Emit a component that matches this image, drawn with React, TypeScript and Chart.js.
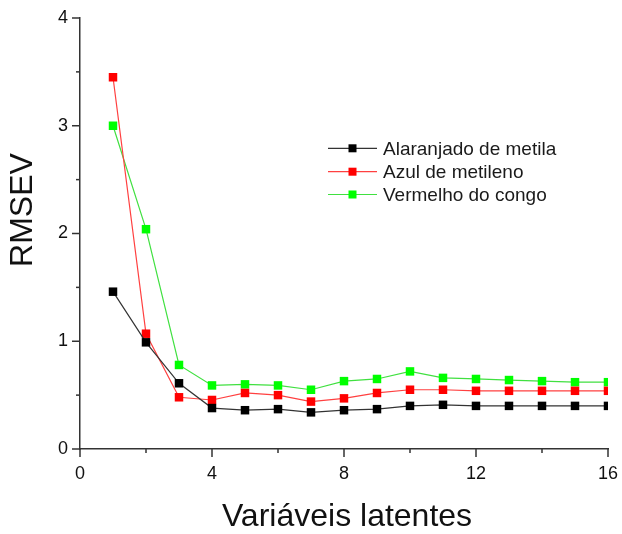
import React, { useEffect, useRef } from "react";
import { Chart, registerables } from "chart.js";

Chart.register(...registerables);

const latentVariables = [1, 2, 3, 4, 5, 6, 7, 8, 9, 10, 11, 12, 13, 14, 15, 16];
const alaranjado = [1.46, 0.99, 0.61, 0.38, 0.36, 0.37, 0.34, 0.36, 0.37, 0.4, 0.41, 0.4, 0.4, 0.4, 0.4, 0.4];
const azul = [3.45, 1.07, 0.48, 0.455, 0.52, 0.5, 0.44, 0.47, 0.52, 0.55, 0.55, 0.54, 0.54, 0.54, 0.54, 0.54];
const vermelho = [3.0, 2.04, 0.78, 0.59, 0.6, 0.59, 0.55, 0.63, 0.65, 0.72, 0.66, 0.65, 0.64, 0.63, 0.62, 0.62];
const seriesNames = ["Alaranjado de metila", "Azul de metileno", "Vermelho do congo"];
const xTickValues = [0, 4, 8, 12, 16];
const yTickValues = [0, 1, 2, 3, 4];

const FONT = "'Liberation Sans', Arial, sans-serif";

const customPlugin = {
  id: "customDecor",
  afterDraw(chart: any) {
    const ctx = chart.ctx;
    const xs = chart.scales.x;
    const ys = chart.scales.y;
    const area = chart.chartArea;
    ctx.save();
    ctx.strokeStyle = "#333";
    ctx.lineWidth = 1.5;
    for (let v = 0; v <= 16; v += 2) {
      const px = xs.getPixelForValue(v);
      const len = v % 4 === 0 ? 8 : 4;
      ctx.beginPath();
      ctx.moveTo(px, area.bottom);
      ctx.lineTo(px, area.bottom + len);
      ctx.stroke();
    }
    for (let v = 0; v <= 4.001; v += 0.5) {
      const py = ys.getPixelForValue(v);
      const len = Math.abs(v - Math.round(v)) < 0.01 ? 8 : 4;
      ctx.beginPath();
      ctx.moveTo(area.left, py);
      ctx.lineTo(area.left - len, py);
      ctx.stroke();
    }
    ctx.fillStyle = "#111";
    ctx.font = `32px ${FONT}`;
    ctx.textAlign = "center";
    ctx.textBaseline = "middle";
    ctx.fillText("Variáveis latentes", 347, 517);
    ctx.save();
    ctx.translate(23, 210);
    ctx.rotate(-Math.PI / 2);
    ctx.fillText("RMSEV", 0, 0);
    ctx.restore();
    const rows = [148.3, 171.7, 194.5];
    chart.data.datasets.forEach((ds: any, i: number) => {
      const y = rows[i];
      ctx.strokeStyle = ds.borderColor;
      ctx.lineWidth = 1.2;
      ctx.beginPath();
      ctx.moveTo(328, y);
      ctx.lineTo(377, y);
      ctx.stroke();
      ctx.fillStyle = ds.pointBackgroundColor;
      ctx.fillRect(352.5 - 4, y - 4, 8, 8);
      ctx.fillStyle = "#1a1a1a";
      ctx.font = `19px ${FONT}`;
      ctx.textAlign = "left";
      ctx.textBaseline = "middle";
      ctx.fillText(ds.label, 383, y + 1);
    });
    ctx.restore();
  },
};

const zeroPad = (s: any) => {
  s.paddingTop = 0;
  s.paddingBottom = 0;
  s.paddingLeft = 0;
  s.paddingRight = 0;
};

export default function App() {
  const canvasRef = useRef<HTMLCanvasElement | null>(null);

  useEffect(() => {
    document.body.style.margin = "0";
    const canvas = canvasRef.current;
    if (!canvas) return;
    const mk = (vals: number[]) => latentVariables.map((x, i) => ({ x, y: vals[i] }));
    const colors = [
      { line: "#333333", point: "#000000" },
      { line: "#ff4040", point: "#ff0000" },
      { line: "#40e040", point: "#00ff00" },
    ];
    const all = [alaranjado, azul, vermelho];
    const chart = new Chart(canvas, {
      type: "line",
      data: {
        datasets: all.map((vals, i) => ({
          label: seriesNames[i],
          data: mk(vals),
          borderColor: colors[i].line,
          borderWidth: 1.2,
          pointStyle: "rect",
          pointRadius: 6,
          pointBackgroundColor: colors[i].point,
          pointBorderColor: colors[i].point,
          pointBorderWidth: 0,
          tension: 0,
        })),
      },
      options: {
        animation: false,
        responsive: false,
        devicePixelRatio: 1,
        layout: { padding: { left: 0, right: 14, top: 18, bottom: 0 } },
        plugins: { legend: { display: false }, tooltip: { enabled: false } },
        scales: {
          x: {
            type: "linear",
            min: 0,
            max: 16,
            afterFit: (s: any) => {
              s.height = 85;
              zeroPad(s);
            },
            afterBuildTicks: (s: any) => {
              s.ticks = xTickValues.map((v) => ({ value: v }));
            },
            grid: { display: false, drawTicks: false, tickLength: 0 },
            border: { display: true, color: "#333", width: 1.5 },
            ticks: {
              padding: 14,
              color: "#111",
              font: { family: FONT, size: 18 },
              maxRotation: 0,
            },
          },
          y: {
            type: "linear",
            min: 0,
            max: 4,
            afterFit: (s: any) => {
              s.width = 80;
              zeroPad(s);
            },
            afterBuildTicks: (s: any) => {
              s.ticks = yTickValues.map((v) => ({ value: v }));
            },
            grid: { display: false, drawTicks: false, tickLength: 0 },
            border: { display: true, color: "#333", width: 1.5 },
            ticks: {
              padding: 12,
              color: "#111",
              font: { family: FONT, size: 18 },
            },
          },
        },
      },
      plugins: [customPlugin],
    });
    return () => chart.destroy();
  }, []);

  return (
    <div style={{ position: "absolute", left: 0, top: 0, width: 622, height: 534, background: "#fff" }}>
      <canvas ref={canvasRef} width={622} height={534} />
    </div>
  );
}
